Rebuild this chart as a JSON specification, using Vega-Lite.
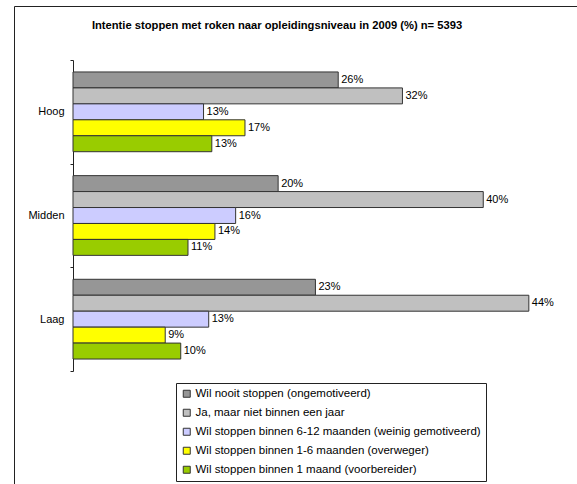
{
  "$schema": "https://vega.github.io/schema/vega-lite/v6.json",
  "width": 580,
  "height": 500,
  "autosize": {"type": "none"},
  "padding": {"left": 14, "top": 6, "right": 0, "bottom": 0},
  "background": "white",
  "config": {"font": "Liberation Sans", "view": {"stroke": "#222", "strokeWidth": 1}},
  "title": {
    "text": "Intentie stoppen met roken naar opleidingsniveau in 2009 (%)  n= 5393",
    "fontSize": 11.2,
    "fontWeight": "bold",
    "color": "#000",
    "anchor": "middle",
    "offset": -31,
    "dx": -27
  },
  "data": {
    "values": [
      {"niveau": "Hoog", "intentie": "Wil nooit stoppen (ongemotiveerd)", "pct": 0.256},
      {"niveau": "Hoog", "intentie": "Ja, maar niet binnen een jaar", "pct": 0.318},
      {"niveau": "Hoog", "intentie": "Wil stoppen binnen 6-12 maanden (weinig gemotiveerd)", "pct": 0.126},
      {"niveau": "Hoog", "intentie": "Wil stoppen binnen 1-6 maanden (overweger)", "pct": 0.166},
      {"niveau": "Hoog", "intentie": "Wil stoppen binnen 1 maand (voorbereider)", "pct": 0.134},
      {"niveau": "Midden", "intentie": "Wil nooit stoppen (ongemotiveerd)", "pct": 0.198},
      {"niveau": "Midden", "intentie": "Ja, maar niet binnen een jaar", "pct": 0.396},
      {"niveau": "Midden", "intentie": "Wil stoppen binnen 6-12 maanden (weinig gemotiveerd)", "pct": 0.157},
      {"niveau": "Midden", "intentie": "Wil stoppen binnen 1-6 maanden (overweger)", "pct": 0.137},
      {"niveau": "Midden", "intentie": "Wil stoppen binnen 1 maand (voorbereider)", "pct": 0.111},
      {"niveau": "Laag", "intentie": "Wil nooit stoppen (ongemotiveerd)", "pct": 0.234},
      {"niveau": "Laag", "intentie": "Ja, maar niet binnen een jaar", "pct": 0.44},
      {"niveau": "Laag", "intentie": "Wil stoppen binnen 6-12 maanden (weinig gemotiveerd)", "pct": 0.131},
      {"niveau": "Laag", "intentie": "Wil stoppen binnen 1-6 maanden (overweger)", "pct": 0.089},
      {"niveau": "Laag", "intentie": "Wil stoppen binnen 1 maand (voorbereider)", "pct": 0.104}
    ]
  },
  "encoding": {
    "y": {
      "field": "niveau",
      "type": "nominal",
      "sort": ["Hoog", "Midden", "Laag"],
      "scale": {"range": [54, 365], "paddingInner": 0, "paddingOuter": 0},
      "axis": {
        "title": null,
        "orient": "left",
        "offset": -59,
        "tickBand": "extent",
        "tickSize": 3,
        "tickColor": "#222",
        "domainColor": "#222",
        "labelFontSize": 11,
        "labelColor": "#000",
        "labelPadding": 6,
        "grid": false
      }
    },
    "yOffset": {
      "field": "intentie",
      "type": "nominal",
      "sort": [
        "Wil nooit stoppen (ongemotiveerd)",
        "Ja, maar niet binnen een jaar",
        "Wil stoppen binnen 6-12 maanden (weinig gemotiveerd)",
        "Wil stoppen binnen 1-6 maanden (overweger)",
        "Wil stoppen binnen 1 maand (voorbereider)"
      ],
      "scale": {"paddingInner": 0, "paddingOuter": 0.75}
    },
    "x": {
      "field": "pct",
      "type": "quantitative",
      "scale": {"domain": [0, 0.5], "range": [59, 577]},
      "axis": null
    }
  },
  "layer": [
    {
      "mark": {"type": "bar", "stroke": "#333", "strokeWidth": 1},
      "encoding": {
        "color": {
          "field": "intentie",
          "type": "nominal",
          "scale": {
            "domain": [
              "Wil nooit stoppen (ongemotiveerd)",
              "Ja, maar niet binnen een jaar",
              "Wil stoppen binnen 6-12 maanden (weinig gemotiveerd)",
              "Wil stoppen binnen 1-6 maanden (overweger)",
              "Wil stoppen binnen 1 maand (voorbereider)"
            ],
            "range": ["#969696", "#C0C0C0", "#CCCCFF", "#FFFF00", "#99CC00"]
          },
          "legend": {
            "title": null,
            "orient": "none",
            "legendX": 162,
            "legendY": 377,
            "strokeColor": "#222",
            "fillColor": "white",
            "padding": 5,
            "labelFontSize": 11.5,
            "labelColor": "#000",
            "labelLimit": 400,
            "symbolType": "square",
            "symbolSize": 49,
            "symbolStrokeColor": "#333",
            "symbolStrokeWidth": 1,
            "rowPadding": 6,
            "labelOffset": 3
          }
        }
      }
    },
    {
      "mark": {"type": "text", "align": "left", "baseline": "middle", "dx": 3, "fontSize": 11, "color": "#000"},
      "encoding": {
        "text": {"field": "pct", "type": "quantitative", "format": ".0%"}
      }
    }
  ]
}
